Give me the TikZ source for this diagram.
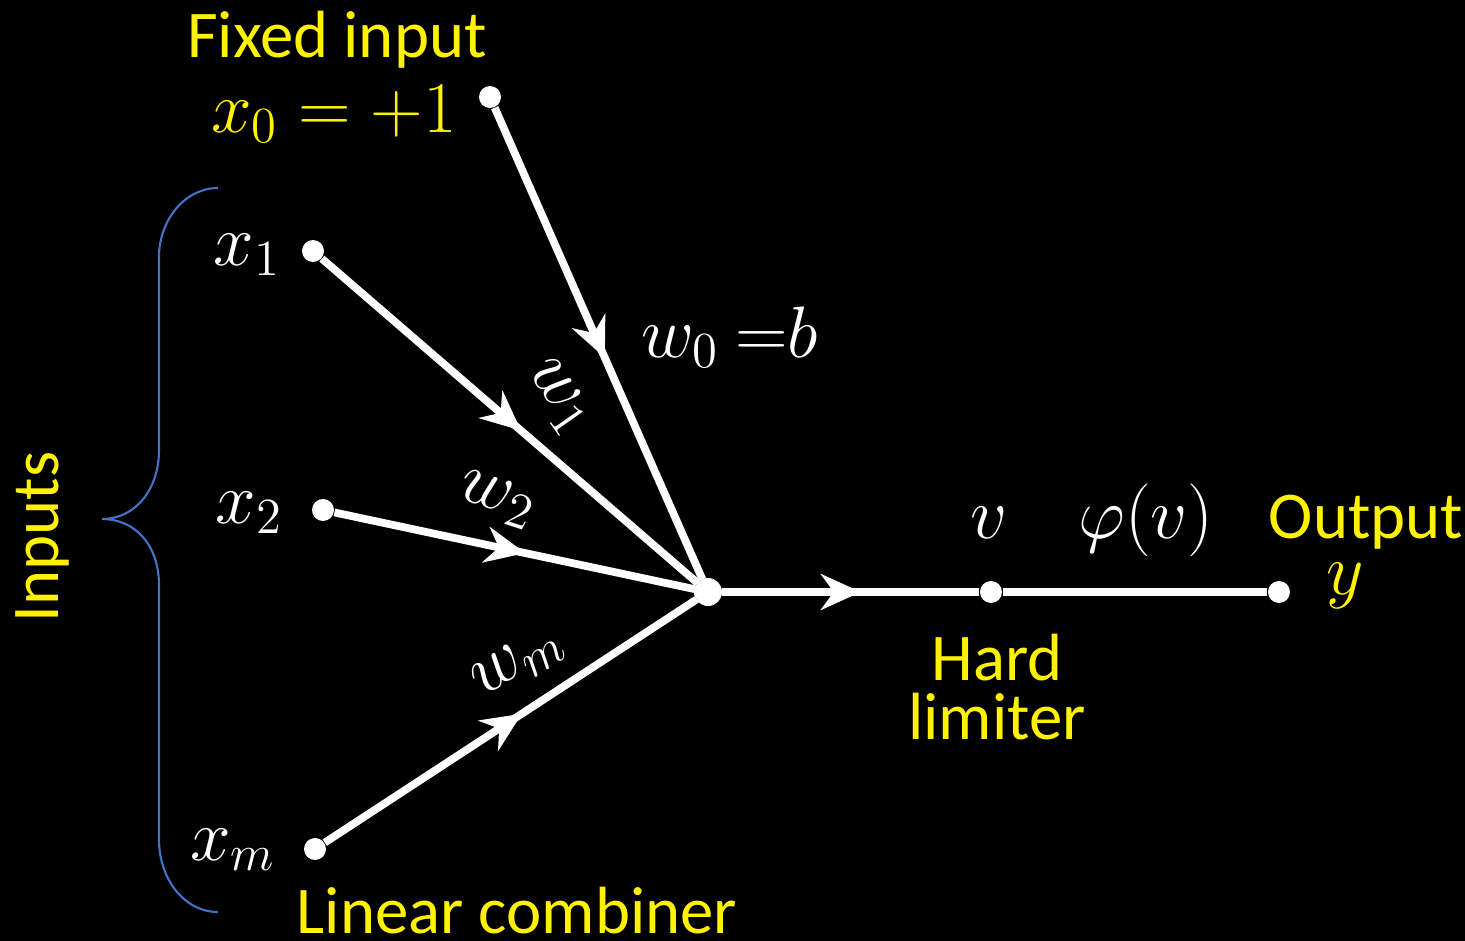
\documentclass[tikz,border=0pt]{standalone}
\usepackage{fontspec}
\setmainfont{Carlito}
\usetikzlibrary{arrows.meta, decorations.markings}
\definecolor{braceblue}{HTML}{4472C4}
\tikzset{
    wire/.style={draw=white, line width=2.2pt},
    midarrow/.style={postaction={decorate}, decoration={markings, mark=at position #1 with {\arrow[white]{Stealth[length=0.4cm, width=0.36cm, inset=0.13cm]}}}},
    dot/.style={circle, fill=white, inner sep=0pt, minimum size=0.22cm},
    lbl/.style={text=yellow, font=\fontsize{19}{22}\selectfont, inner sep=0pt},
    mathlbl/.style={text=white, font=\fontsize{20.5}{24}\selectfont, inner sep=0pt}
}

\begin{document}
\begin{tikzpicture}
\fill[black] (0,0) rectangle (14.65,-9.41);
\useasboundingbox (0,0) rectangle (14.65,-9.41);

% input and output points
\node[dot] (x0) at (4.90,-0.97) {};
\node[dot] (x1) at (3.13,-2.51) {};
\node[dot] (x2) at (3.23,-5.10) {};
\node[dot] (xm) at (3.15,-8.49) {};
\node[dot, minimum size=0.26cm] (sum) at (7.08,-5.92) {};
\node[dot] (v) at (9.91,-5.92) {};
\node[dot] (out) at (12.79,-5.92) {};

% weighted connections
\draw[wire, midarrow=0.53] (x0) -- (sum);
\draw[wire, midarrow=0.53] (x1) -- (sum);
\draw[wire, midarrow=0.53] (x2) -- (sum);
\draw[wire, midarrow=0.53] (xm) -- (sum);
\draw[wire, midarrow=0.54] (sum) -- (v);
\draw[wire] (v) -- (out);
\fill[white] (sum) circle (0.14);

% labels
\node[lbl, anchor=base] (fixed) at (3.37,-0.57) {Fixed input};
\node[mathlbl, text=yellow, anchor=base] (x0lbl) at (3.34,-1.32) {$x_0 = +1$};
\node[mathlbl, anchor=base] (x1lbl) at (2.47,-2.65) {$x_1$};
\node[mathlbl, anchor=base] (x2lbl) at (2.49,-5.23) {$x_2$};
\node[mathlbl, anchor=base] (xmlbl) at (2.33,-8.60) {$x_m$};
\node[mathlbl, anchor=base] (w0lbl) at (7.30,-3.57) {$w_0\ {=}b$};
\node[mathlbl, rotate=-55] (w1lbl) at (5.58,-3.97) {$w_1$};
\node[mathlbl, rotate=-18] (w2lbl) at (4.97,-5.00) {$w_2$};
\node[mathlbl, rotate=33] (wmlbl) at (5.18,-6.63) {$w_m$};
\node[mathlbl, anchor=base] (vlbl) at (9.89,-5.38) {$v$};
\node[mathlbl, anchor=base] (philbl) at (11.46,-5.38) {$\varphi(v)$};
\node[lbl, anchor=base] (outlbl) at (13.66,-5.38) {Output};
\node[mathlbl, text=yellow, anchor=base] (ylbl) at (13.45,-5.95) {$y$};
\node[lbl, anchor=base] (hard) at (9.97,-6.80) {Hard};
\node[lbl, anchor=base] (limiter) at (9.97,-7.40) {limiter};
\node[lbl, anchor=base] (combiner) at (5.17,-9.33) {Linear combiner};
\node[lbl, rotate=90] (inputs) at (0.42,-5.37) {Inputs};

% brace round the inputs
\draw[braceblue, line width=0.6pt] (2.18,-1.88) .. controls (1.85,-1.88) and (1.59,-2.20) .. (1.59,-2.57)
    -- (1.59,-4.50) .. controls (1.59,-4.90) and (1.35,-5.19) .. (1.02,-5.19)
    .. controls (1.35,-5.19) and (1.59,-5.45) .. (1.59,-5.85)
    -- (1.59,-8.39) .. controls (1.59,-8.80) and (1.85,-9.12) .. (2.18,-9.12);
\end{tikzpicture}
\end{document}
